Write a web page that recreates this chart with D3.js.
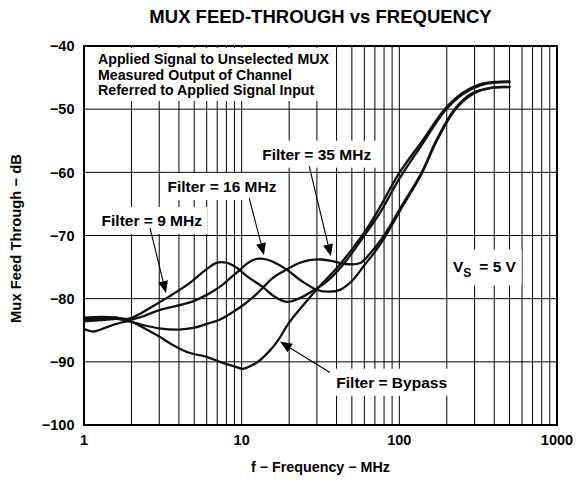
<!DOCTYPE html>
<html>
<head>
<meta charset="utf-8">
<script src="https://cdn.jsdelivr.net/npm/d3@7"></script>
<style>
  html, body { margin: 0; padding: 0; background: #fff; }
  svg { display: block; font-family: "Liberation Sans", Arial, Helvetica, sans-serif; font-weight: bold; }
</style>
</head>
<body>
<svg id="chart" width="576" height="481"></svg>
<script>
// Feed-through curves, [frequency MHz, dB]
const bypass = [[1,-83.3],[1.3,-83.1],[1.6,-83.0],[1.9,-83.4],[2.3,-84.4],[3,-86.0],[3.7,-87.4],[4.7,-88.6],[6,-89.2],[7.3,-90.0],[8.7,-90.6],[10.2,-91.1],[11.5,-90.6],[12.5,-90.1],[15,-88.3],[17,-86.6],[20,-83.8],[25,-80.8],[30,-78.5],[40,-75.2],[50,-72.2],[62,-69.0],[75,-65.6],[100,-60.1],[141,-54.9],[194,-50.0],[253,-47.4],[320,-46.1],[400,-45.7],[500,-45.6]];
const filter9 = [[1,-83.0],[1.3,-82.9],[1.6,-83.0],[1.9,-83.2],[2.3,-82.3],[3,-80.6],[3.5,-79.6],[4.7,-77.5],[5.8,-75.6],[7,-74.3],[8,-74.3],[9.3,-75.1],[11,-76.6],[13.7,-78.2],[16,-79.6],[19.3,-80.5],[23,-80.0],[29,-78.6],[35,-77.2],[45,-74.3],[60,-70.0],[75,-66.5],[100,-61.0],[141,-55.4],[194,-50.3],[253,-47.6],[330,-46.2],[400,-45.8],[500,-45.7]];
const filter16 = [[1,-83.6],[1.3,-83.4],[1.6,-83.2],[1.9,-83.4],[2.3,-82.9],[3,-81.8],[4.7,-80.6],[6,-79.4],[7.3,-78.1],[8.5,-76.7],[9.8,-75.4],[11,-74.3],[12.5,-73.7],[14.4,-73.8],[16.5,-74.4],[19.3,-75.4],[24,-77.2],[30,-78.6],[36,-78.9],[42,-78.6],[50,-77.2],[60,-74.7],[70,-72.6],[79,-70.7],[103,-65.7],[138,-60.3],[172,-55.1],[224,-50.2],[293,-47.6],[390,-46.6],[500,-46.5]];
const filter35 = [[1,-84.8],[1.15,-85.2],[1.3,-84.8],[1.6,-84.0],[1.9,-83.6],[2.3,-84.1],[3,-84.7],[4,-84.9],[5,-84.6],[6,-84.0],[7.3,-83.3],[8.7,-82.2],[10.5,-80.8],[12.5,-79.2],[13.7,-78.2],[16,-76.6],[19.3,-75.4],[23,-74.4],[27,-73.9],[32,-73.8],[37,-74.0],[45,-74.5],[56,-74.4],[65,-72.9],[79,-70.2],[103,-65.4],[138,-60.1],[172,-54.9],[224,-50.0],[293,-47.4],[390,-46.6],[500,-46.5]];

// Axis ticks
const xTicks = [1, 10, 100, 1000];
const xTickLabels = ["1", "10", "100", "1000"];
const yTicks = [-100, -90, -80, -70, -60, -50, -40];
const yTickLabels = ["−100", "−90", "−80", "−70", "−60", "−50", "−40"];

// Curve labels: text, anchor [MHz, dB], arrow from [MHz, dB] to [MHz, dB]
const labelTexts = ["Filter = 9 MHz", "Filter = 16 MHz", "Filter = 35 MHz", "Filter = Bypass"];
const labelAnchors = [[2.69, -68.5], [7.5, -63.1], [29.9, -58.0], [89.4, -94.1]];
const arrowFrom = [[2.62, -68.8], [11.17, -64.1], [26.8, -59.0], [36.3, -91.7]];
const arrowTo = [[3.31, -79.1], [13.85, -73.1], [36.8, -73.3], [17.5, -86.8]];

const noteLines = ["Applied Signal to Unselected MUX", "Measured Output of Channel", "Referred to Applied Signal Input"];

const svg = d3.select("#chart");
const x = d3.scaleLog().domain([1, 1000]).range([84, 557]);
const y = d3.scaleLinear().domain([-100, -40]).range([425, 46]);

// Grid
const minor = [];
for (let d = 1; d < 1000; d *= 10) for (let k = 1; k <= 9; k++) if (d * k > 1) minor.push(d * k);
const grid = svg.append("g").attr("stroke", "#000").attr("stroke-width", 1);
grid.selectAll("line.v").data(minor).join("line")
  .attr("x1", d => x(d)).attr("x2", d => x(d))
  .attr("y1", y(-100)).attr("y2", y(-40));
grid.selectAll("line.h").data(yTicks.slice(1, -1)).join("line")
  .attr("x1", x(1)).attr("x2", x(1000))
  .attr("y1", d => y(d)).attr("y2", d => y(d));

const fs = { title: 18.5, tick: 14.5, axis: 14.3, label: 15.5, note: 14.2 };

// Note block at upper left
const noteG = svg.append("g");
const noteRect = noteG.append("rect").attr("fill", "#fff");
const noteText = noteG.append("g").attr("font-size", fs.note);
noteText.selectAll("text").data(noteLines).join("text")
  .attr("x", x(1.227)).attr("y", (d, i) => 64 + i * 15.5)
  .text(d => d);
{
  const b = noteText.node().getBBox();
  noteRect.attr("x", b.x - 6).attr("y", b.y - 3).attr("width", b.width + 8).attr("height", b.height + 6);
}

// Curves
const line = d3.line().x(d => x(d[0])).y(d => y(d[1])).curve(d3.curveCatmullRom.alpha(0.5));
svg.append("g").attr("fill", "none").attr("stroke", "#111").attr("stroke-width", 2.3)
  .attr("stroke-linejoin", "round").attr("stroke-linecap", "round")
  .selectAll("path").data([bypass, filter9, filter16, filter35]).join("path")
  .attr("d", line);

// Curve labels with white backing
const labels = svg.append("g");
labelTexts.forEach((t, i) => {
  const g = labels.append("g");
  const r = g.append("rect").attr("fill", "#fff");
  const tx = g.append("text").attr("font-size", fs.label).attr("text-anchor", "middle")
    .attr("x", x(labelAnchors[i][0])).attr("y", y(labelAnchors[i][1])).text(t);
  const b = tx.node().getBBox();
  r.attr("x", b.x - 5).attr("y", b.y - 5).attr("width", b.width + 10).attr("height", b.height + 10);
});

// Supply voltage label
{
  const g = svg.append("g");
  const r = g.append("rect").attr("fill", "#fff");
  const t = g.append("text").attr("font-size", fs.label)
    .attr("x", x(218.8)).attr("y", y(-75.7));
  t.append("tspan").text("V");
  t.append("tspan").attr("font-size", 12).attr("dy", 5).text("S");
  t.append("tspan").attr("dy", -5).attr("dx", 8).text("= 5 V");
  const b = t.node().getBBox();
  r.attr("x", b.x - 5).attr("y", b.y - 8).attr("width", b.width + 10).attr("height", b.height + 14);
}

// Arrows
const arrows = svg.append("g");
arrowFrom.forEach((p, i) => {
  const x0 = x(p[0]), y0 = y(p[1]), x1 = x(arrowTo[i][0]), y1 = y(arrowTo[i][1]);
  const ang = Math.atan2(y1 - y0, x1 - x0);
  const L = 12, W = 5;
  const bx = x1 - L * Math.cos(ang), by = y1 - L * Math.sin(ang);
  arrows.append("line").attr("x1", x0).attr("y1", y0).attr("x2", bx).attr("y2", by)
    .attr("stroke", "#000").attr("stroke-width", 1.1);
  arrows.append("path")
    .attr("d", `M${x1},${y1}L${bx + W * Math.sin(ang)},${by - W * Math.cos(ang)}L${bx - W * Math.sin(ang)},${by + W * Math.cos(ang)}Z`)
    .attr("fill", "#000");
});

// Frame
svg.append("rect").attr("x", x(1)).attr("y", y(-40))
  .attr("width", x(1000) - x(1)).attr("height", y(-100) - y(-40))
  .attr("fill", "none").attr("stroke", "#000").attr("stroke-width", 2);

// Tick labels
svg.append("g").attr("font-size", fs.tick).attr("text-anchor", "end")
  .selectAll("text").data(yTicks).join("text")
  .attr("x", 74.5).attr("y", d => y(d)).attr("dy", "0.36em")
  .text((d, i) => yTickLabels[i]);
svg.append("g").attr("font-size", fs.tick).attr("text-anchor", "middle")
  .selectAll("text").data(xTicks).join("text")
  .attr("x", d => x(d)).attr("y", 445)
  .text((d, i) => xTickLabels[i]);

// Titles
svg.append("text").attr("x", (x(1) + x(1000)) / 2).attr("y", 23).attr("text-anchor", "middle")
  .attr("font-size", fs.title).text("MUX FEED-THROUGH vs FREQUENCY");
svg.append("text").attr("x", (x(1) + x(1000)) / 2).attr("y", 472).attr("text-anchor", "middle")
  .attr("font-size", fs.axis).text("f − Frequency − MHz");
svg.append("text").attr("transform", `translate(21,${(y(-40) + y(-100)) / 2 + 3}) rotate(-90)`)
  .attr("text-anchor", "middle").attr("font-size", fs.axis + 0.5).text("Mux Feed Through − dB");
</script>
</body>
</html>
